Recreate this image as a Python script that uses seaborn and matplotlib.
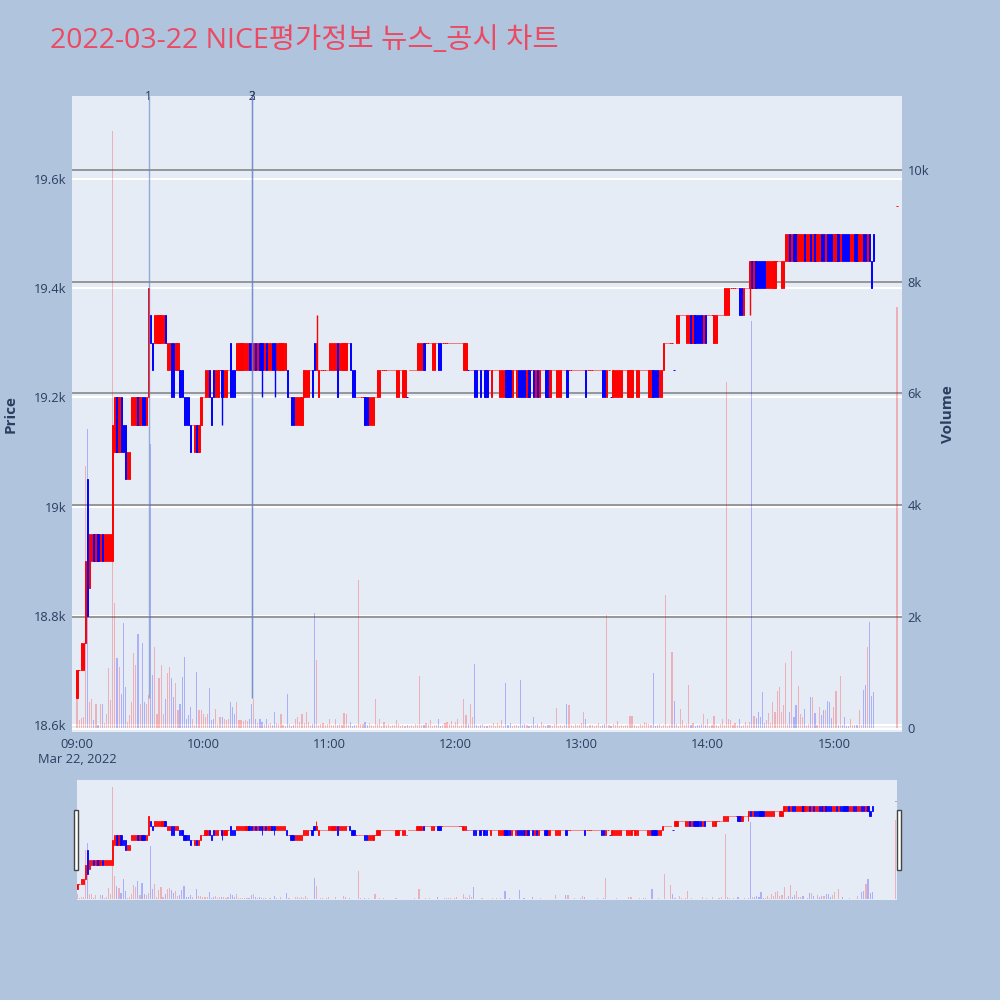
import numpy as np
import pandas as pd
import matplotlib
matplotlib.use("Agg")
import matplotlib.pyplot as plt
import matplotlib.dates as mdates
import matplotlib.transforms as mtransforms
from matplotlib.patches import Rectangle
import seaborn as sns

# ---- data (1-minute candles, 09:00 - 15:19, plus 15:30 closing auction) ----
times = list(pd.date_range("2022-03-22 09:00", "2022-03-22 15:19", freq="min")) + [pd.Timestamp("2022-03-22 15:30")]

opens = [
    18650, 18700, 18700, 18700, 18750, 19050, 18850, 18900, 18950, 18900,
    18950, 18900, 18950, 18900, 18900, 18900, 18900, 18900, 19100, 19200,
    19100, 19200, 19150, 19150, 19050, 19050, 19150, 19150, 19150, 19200,
    19150, 19200, 19200, 19150, 19200, 19350, 19300, 19300, 19300, 19300,
    19300, 19300, 19350, 19250, 19250, 19300, 19300, 19250, 19250, 19250,
    19250, 19200, 19200, 19200, 19150, 19150, 19100, 19150, 19100, 19150,
    19200, 19200, 19200, 19250, 19200, 19250, 19200, 19200, 19250, 19250,
    19200, 19200, 19250, 19300, 19250, 19250, 19250, 19250, 19250, 19250,
    19250, 19250, 19300, 19300, 19250, 19300, 19250, 19300, 19300, 19250,
    19300, 19250, 19250, 19300, 19300, 19250, 19250, 19250, 19250, 19250,
    19250, 19200, 19200, 19200, 19150, 19150, 19150, 19150, 19200, 19200,
    19200, 19250, 19250, 19300, 19250, 19200, 19250, 19250, 19250, 19250,
    19250, 19250, 19250, 19250, 19300, 19250, 19250, 19250, 19250, 19300,
    19300, 19250, 19250, 19200, 19200, 19200, 19200, 19200, 19200, 19150,
    19150, 19150, 19200, 19200, 19200, 19250, 19250, 19250, 19250, 19250,
    19250, 19250, 19200, 19200, 19250, 19200, 19200, 19200, 19250, 19250,
    19250, 19250, 19250, 19250, 19250, 19300, 19300, 19300, 19300, 19250,
    19250, 19300, 19300, 19300, 19300, 19300, 19300, 19300, 19300, 19300,
    19300, 19300, 19300, 19300, 19250, 19250, 19250, 19250, 19250, 19250,
    19250, 19250, 19250, 19250, 19250, 19250, 19250, 19200, 19250, 19250,
    19250, 19200, 19200, 19200, 19250, 19250, 19250, 19200, 19250, 19200,
    19250, 19250, 19250, 19250, 19200, 19250, 19250, 19250, 19200, 19250,
    19200, 19250, 19250, 19250, 19250, 19200, 19250, 19250, 19200, 19200,
    19200, 19250, 19250, 19250, 19250, 19250, 19250, 19250, 19250, 19250,
    19250, 19250, 19250, 19250, 19250, 19250, 19250, 19250, 19250, 19250,
    19250, 19250, 19200, 19250, 19200, 19200, 19200, 19200, 19200, 19200,
    19250, 19250, 19200, 19200, 19200, 19250, 19200, 19200, 19250, 19250,
    19250, 19250, 19200, 19200, 19250, 19250, 19250, 19200, 19200, 19250,
    19300, 19300, 19300, 19300, 19250, 19300, 19300, 19350, 19350, 19350,
    19300, 19300, 19350, 19300, 19350, 19350, 19350, 19350, 19300, 19350,
    19350, 19350, 19350, 19300, 19300, 19350, 19350, 19350, 19350, 19350,
    19350, 19400, 19400, 19400, 19400, 19400, 19400, 19350, 19400, 19400,
    19400, 19450, 19400, 19450, 19450, 19450, 19450, 19450, 19400, 19400,
    19400, 19400, 19400, 19450, 19450, 19400, 19400, 19450, 19450, 19500,
    19450, 19500, 19500, 19450, 19450, 19450, 19500, 19450, 19450, 19500,
    19450, 19500, 19450, 19450, 19500, 19500, 19450, 19500, 19500, 19500,
    19450, 19450, 19500, 19450, 19500, 19500, 19500, 19500, 19450, 19450,
    19500, 19500, 19450, 19450, 19500, 19500, 19450, 19500, 19450, 19500,
    19550,
]

closes = [
    18700, 18700, 18750, 18750, 18900, 18800, 18950, 18950, 18900, 18950,
    18900, 18950, 18900, 18950, 18950, 18950, 18950, 19150, 19200, 19100,
    19200, 19100, 19100, 19050, 19100, 19100, 19200, 19200, 19200, 19150,
    19200, 19150, 19150, 19200, 19400, 19300, 19250, 19350, 19350, 19350,
    19350, 19350, 19300, 19300, 19300, 19200, 19200, 19300, 19300, 19200,
    19200, 19150, 19150, 19150, 19100, 19150, 19150, 19100, 19150, 19200,
    19200, 19250, 19250, 19200, 19150, 19200, 19250, 19250, 19250, 19200,
    19250, 19250, 19250, 19200, 19200, 19200, 19300, 19300, 19300, 19300,
    19300, 19300, 19250, 19250, 19300, 19250, 19300, 19250, 19250, 19300,
    19250, 19300, 19300, 19250, 19250, 19300, 19300, 19300, 19300, 19300,
    19200, 19200, 19150, 19150, 19200, 19200, 19200, 19200, 19250, 19250,
    19250, 19250, 19200, 19250, 19300, 19250, 19250, 19250, 19250, 19250,
    19300, 19300, 19300, 19300, 19200, 19300, 19300, 19300, 19300, 19300,
    19250, 19200, 19200, 19200, 19200, 19200, 19200, 19150, 19150, 19200,
    19200, 19200, 19200, 19250, 19250, 19250, 19250, 19250, 19250, 19250,
    19250, 19250, 19250, 19250, 19250, 19250, 19250, 19200, 19250, 19250,
    19250, 19250, 19300, 19300, 19300, 19250, 19300, 19300, 19300, 19300,
    19300, 19300, 19250, 19250, 19300, 19300, 19300, 19300, 19300, 19300,
    19300, 19300, 19300, 19300, 19300, 19300, 19250, 19250, 19250, 19200,
    19200, 19250, 19200, 19250, 19200, 19200, 19250, 19250, 19250, 19250,
    19250, 19250, 19250, 19250, 19200, 19200, 19200, 19250, 19250, 19250,
    19200, 19200, 19200, 19200, 19250, 19200, 19250, 19200, 19250, 19200,
    19250, 19250, 19250, 19200, 19200, 19250, 19250, 19250, 19250, 19250,
    19250, 19250, 19250, 19200, 19250, 19250, 19250, 19250, 19250, 19250,
    19250, 19250, 19200, 19250, 19250, 19250, 19250, 19250, 19250, 19250,
    19200, 19200, 19250, 19250, 19200, 19250, 19250, 19250, 19250, 19250,
    19250, 19250, 19250, 19250, 19250, 19250, 19250, 19250, 19250, 19250,
    19250, 19250, 19250, 19250, 19200, 19200, 19200, 19250, 19250, 19300,
    19300, 19300, 19300, 19300, 19250, 19350, 19350, 19350, 19350, 19350,
    19350, 19350, 19300, 19350, 19300, 19300, 19300, 19300, 19350, 19300,
    19350, 19350, 19350, 19350, 19350, 19350, 19350, 19350, 19400, 19400,
    19400, 19400, 19400, 19400, 19400, 19350, 19350, 19400, 19400, 19400,
    19450, 19400, 19450, 19400, 19400, 19400, 19400, 19400, 19450, 19450,
    19450, 19450, 19450, 19450, 19450, 19450, 19450, 19500, 19500, 19450,
    19500, 19450, 19450, 19500, 19500, 19500, 19450, 19500, 19500, 19450,
    19500, 19450, 19500, 19500, 19450, 19450, 19500, 19450, 19450, 19450,
    19500, 19500, 19450, 19500, 19450, 19450, 19450, 19450, 19500, 19500,
    19450, 19450, 19500, 19500, 19450, 19450, 19500, 19450, 19400, 19450,
    19550,
]

# shadows that reach past the body
wick_index = [69, 88, 94, 114, 320]
wick_highs = [19250, 19300, 19300, 19350, 19450]
wick_lows = [19150, 19200, 19200, 19250, 19350]

volumes = [
    530, 150, 180, 200, 4700, 5360, 470, 530, 150, 430,
    50, 430, 430, 100, 250, 1070, 500, 10700, 2240, 1250,
    1100, 620, 1880, 740, 110, 230, 470, 1340, 1130, 1690,
    440, 1520, 470, 440, 600, 5100, 950, 1460, 260, 890,
    1130, 260, 530, 980, 1100, 890, 560, 800, 320, 440,
    920, 1280, 170, 230, 380, 170, 60, 1010, 320, 320,
    260, 200, 260, 710, 140, 170, 350, 80, 200, 200,
    170, 140, 170, 470, 380, 260, 470, 140, 150, 120,
    140, 130, 160, 440, 530, 170, 90, 170, 110, 80,
    160, 70, 100, 60, 290, 90, 70, 260, 60, 40,
    620, 80, 40, 60, 170, 200, 110, 260, 90, 290,
    110, 60, 70, 2060, 1220, 50, 80, 90, 60, 80,
    170, 60, 50, 170, 60, 70, 50, 275, 260, 60,
    110, 40, 60, 50, 2660, 80, 70, 110, 60, 100,
    60, 40, 530, 70, 155, 40, 110, 60, 70, 40,
    50, 60, 140, 70, 40, 60, 30, 50, 40, 60,
    40, 80, 60, 930, 50, 60, 90, 70, 140, 40,
    60, 50, 170, 40, 60, 90, 110, 80, 130, 60,
    110, 170, 40, 60, 530, 230, 80, 430, 190, 1140,
    50, 40, 60, 80, 40, 30, 60, 50, 100, 40,
    90, 60, 150, 40, 800, 60, 90, 40, 50, 60,
    40, 870, 60, 80, 50, 40, 60, 190, 50, 70,
    40, 110, 60, 40, 60, 50, 40, 70, 365, 40,
    60, 40, 50, 440, 410, 60, 40, 80, 60, 50,
    90, 290, 170, 40, 60, 50, 30, 60, 100, 40,
    60, 80, 2030, 60, 40, 70, 50, 120, 40, 60,
    30, 50, 60, 215, 215, 60, 40, 30, 80, 60,
    110, 90, 70, 60, 980, 40, 60, 80, 40, 50,
    2390, 40, 60, 1370, 490, 80, 30, 350, 140, 60,
    80, 770, 60, 90, 40, 60, 50, 70, 250, 60,
    160, 40, 60, 220, 50, 40, 80, 170, 60, 6200,
    170, 140, 60, 90, 60, 170, 40, 60, 110, 50,
    110, 7300, 215, 175, 290, 200, 650, 90, 140, 275,
    90, 470, 290, 670, 740, 290, 410, 1160, 80, 290,
    1380, 200, 410, 750, 260, 190, 350, 60, 80, 550,
    550, 275, 60, 380, 230, 320, 320, 490, 470, 175,
    370, 670, 50, 930, 50, 200, 40, 40, 155, 60,
    50, 60, 320, 50, 680, 770, 1460, 1910, 575, 650,
    7540,
]

news_times = ["2022-03-22 09:34", "2022-03-22 10:23", "2022-03-22 10:23"]
news_labels = ["1", "2", "3"]

price_ticks = [18600, 18800, 19000, 19200, 19400, 19600]
price_tick_labels = ["18.6k", "18.8k", "19k", "19.2k", "19.4k", "19.6k"]
vol_ticks = [0, 2000, 4000, 6000, 8000, 10000]
vol_tick_labels = ["0", "2k", "4k", "6k", "8k", "10k"]
hour_ticks = pd.date_range("2022-03-22 09:00", "2022-03-22 15:00", freq="h")
hour_labels = ["09:00\nMar 22, 2022", "10:00", "11:00", "12:00", "13:00", "14:00", "15:00"]

title = "2022-03-22 NICE평가정보 뉴스_공시 차트"

# ---- styling ----
sns.set_theme(style="white")
plt.rcParams["font.family"] = ["Open Sans", "Noto Sans CJK KR", "DejaVu Sans"]
TXT = "#2a3f5f"
BG = "#E5ECF6"
UP, DOWN = "#FF0000", "#0000FF"

t = mdates.date2num(pd.DatetimeIndex(times).to_pydatetime())
o = np.array(opens, dtype=float)
c = np.array(closes, dtype=float)
v = np.array(volumes, dtype=float)

colors = []
prev = None
for oi, ci in zip(o, c):
    if ci > oi:
        colors.append(UP)
    elif ci < oi:
        colors.append(DOWN)
    else:
        colors.append(UP if prev is None or ci >= prev else DOWN)
    prev = ci

MIN = 1 / 1440
t_start = mdates.date2num(pd.Timestamp("2022-03-22 09:00"))
t_end = mdates.date2num(pd.Timestamp("2022-03-22 15:30"))


def draw(ax_v, ax_p, body_w, body_lw, wick_lw):
    ax_v.bar(t, v, width=0.55 * MIN, color=colors, alpha=0.25, linewidth=0, zorder=2)
    ax_p.bar(t, np.abs(c - o), bottom=np.minimum(o, c), width=body_w * MIN,
             color=colors, edgecolor=colors, linewidth=body_lw, zorder=3)
    wt = [t[i] for i in wick_index]
    wc = [colors[i] for i in wick_index]
    ax_p.vlines(wt, wick_lows, wick_highs, colors=wc, linewidth=wick_lw, zorder=3)


fig = plt.figure(figsize=(10, 10), dpi=100, facecolor="#B0C4DE")

# ---- main chart ----
ax_v = fig.add_axes([0.072, 0.268, 0.830, 0.636])
ax_v.set_facecolor(BG)
ax_p = ax_v.twinx()
ax_p.patch.set_visible(False)

draw(ax_v, ax_p, 0.62, 0.7, 1.0)

ax_p.set_ylim(18587, 19752)
ax_v.set_ylim(-70, 11330)
ax_v.set_xlim(t_start - 2.4 * MIN, t_end + 2.4 * MIN)

# price grid (white) drawn under the volume bars
blend = mtransforms.blended_transform_factory(ax_v.transAxes, ax_p.transData)
for p in price_ticks:
    ax_v.plot([0, 1], [p, p], color="white", lw=1.5, transform=blend, zorder=0.5)
ax_v.set_yticks(vol_ticks)
ax_v.set_yticklabels(vol_tick_labels)
ax_v.grid(axis="y", color="#8f8f8f", lw=1.3, zorder=1)
ax_v.set_axisbelow(True)
ax_v.axhline(0, color="white", lw=2, zorder=1)

ax_p.set_yticks(price_ticks)
ax_p.set_yticklabels(price_tick_labels)
ax_p.yaxis.tick_left()
ax_p.yaxis.set_label_position("left")
ax_v.yaxis.tick_right()
ax_v.yaxis.set_label_position("right")
ax_p.set_ylabel("Price", fontsize=11, fontweight="bold", color=TXT)
ax_v.set_ylabel("Volume", fontsize=11, fontweight="bold", color=TXT)
ax_p.yaxis.set_label_coords(-0.066, 0.5)
ax_v.yaxis.set_label_coords(1.047, 0.5)

ax_v.set_xticks(mdates.date2num(hour_ticks.to_pydatetime()))
ax_v.set_xticklabels(hour_labels)

for a in (ax_v, ax_p):
    a.tick_params(length=0, labelsize=9.3, labelcolor=TXT, pad=4)
    for s in a.spines.values():
        s.set_visible(False)
    a.grid(axis="x", visible=False)
ax_p.grid(False)

# news markers
nt = mdates.date2num(pd.DatetimeIndex(news_times).to_pydatetime())
ax_p.vlines(nt, 18650, 19752, colors="#6a84cc", alpha=0.65, linewidth=1, zorder=4)
for x, lab in zip(nt, news_labels):
    ax_p.annotate(lab, (x, 1.0), xycoords=("data", "axes fraction"), ha="center", va="center",
                  fontsize=8.5, color=TXT)

# ---- range slider ----
ax_sv = fig.add_axes([0.077, 0.100, 0.820, 0.120])
ax_sv.set_facecolor(BG)
ax_sp = ax_sv.twinx()
draw(ax_sv, ax_sp, 0.62, 0.6, 0.6)
ax_sv.set_xlim(t_start, t_end + 0.8 * MIN)
ax_sv.set_ylim(-70, 11330)
ax_sp.set_ylim(18537, 19766)
for a in (ax_sv, ax_sp):
    a.set_xticks([])
    a.set_yticks([])
    a.grid(False)
    for s in a.spines.values():
        s.set_visible(False)

for hx in (0.0735, 0.8965):
    fig.patches.append(Rectangle((hx, 0.130), 0.004, 0.060, transform=fig.transFigure,
                                 facecolor="white", edgecolor="#444444", linewidth=1))

fig.text(0.050, 0.959, title, fontsize=20.5, color="#EB4A62", va="center", ha="left",
         family=["Open Sans", "Noto Sans CJK KR", "DejaVu Sans"])

fig.savefig("out.png", dpi=100, facecolor=fig.get_facecolor())
